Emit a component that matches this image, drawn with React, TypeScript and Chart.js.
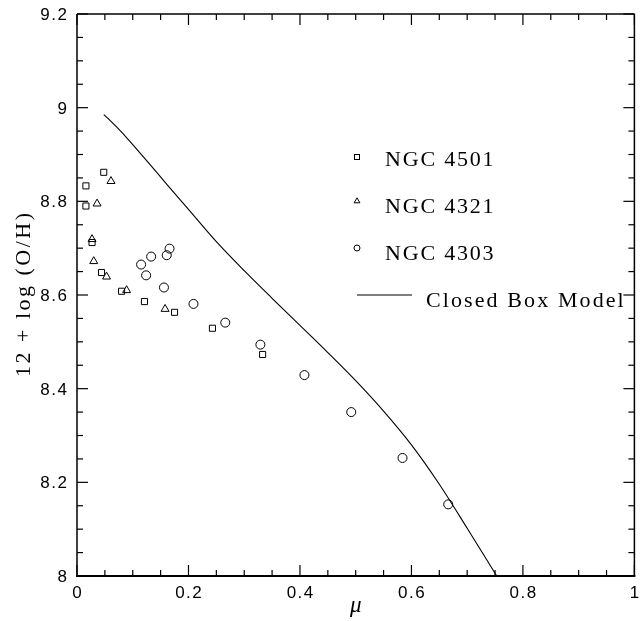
import { useEffect, useRef } from "react";
import { Chart, registerables } from "chart.js";

Chart.register(...registerables);

// ---- data ----
const ngc4501Mu = [0.016, 0.016, 0.048, 0.027, 0.044, 0.080, 0.121, 0.175, 0.243, 0.333];
const ngc4501OH = [8.833, 8.790, 8.862, 8.712, 8.648, 8.608, 8.586, 8.563, 8.529, 8.473];

const ngc4321Mu = [0.061, 0.036, 0.027, 0.030, 0.053, 0.089, 0.158];
const ngc4321OH = [8.843, 8.795, 8.719, 8.672, 8.639, 8.610, 8.570];

const ngc4303Mu = [0.115, 0.133, 0.161, 0.166, 0.124, 0.156, 0.209, 0.266, 0.329, 0.408, 0.492, 0.584, 0.666];
const ngc4303OH = [8.665, 8.682, 8.685, 8.699, 8.642, 8.616, 8.581, 8.541, 8.494, 8.429, 8.350, 8.252, 8.153];

const modelMu = [0.048, 0.06, 0.08, 0.10, 0.13, 0.16, 0.20, 0.25, 0.30, 0.35, 0.40, 0.45, 0.50, 0.55, 0.60, 0.65, 0.70, 0.753];
const modelOH = [8.985, 8.972, 8.948, 8.921, 8.880, 8.838, 8.783, 8.714, 8.652, 8.593, 8.535, 8.477, 8.417, 8.352, 8.280, 8.196, 8.102, 8.0];

const xTickValues = [0, 0.2, 0.4, 0.6, 0.8, 1];
const xTickLabels = ["0", "0.2", "0.4", "0.6", "0.8", "1"];
const yTickValues = [8, 8.2, 8.4, 8.6, 8.8, 9, 9.2];
const yTickLabels = ["8", "8.2", "8.4", "8.6", "8.8", "9", "9.2"];

const legendLabels = ["NGC 4501", "NGC 4321", "NGC 4303", "Closed Box Model"];
const xTitle = "\u03bc";
const yTitle = "12 + log (O/H)";

const pts = (xs: number[], ys: number[]) => xs.map((v, i) => ({ x: v, y: ys[i] }));

function spacedText(ctx: CanvasRenderingContext2D, text: string, x: number, y: number, align: string, ls: number) {
  (ctx as any).letterSpacing = ls + "px";
  ctx.textAlign = "left";
  const w = ctx.measureText(text).width - ls;
  let sx = x;
  if (align === "center") sx = x - w / 2;
  else if (align === "right") sx = x - w;
  ctx.fillText(text, sx, y);
  (ctx as any).letterSpacing = "0px";
}

const framePlugin = {
  id: "framePlugin",
  afterDraw(chart: any) {
    const { ctx, chartArea: a, scales } = chart;
    const xs = scales.x;
    const ys = scales.y;
    ctx.save();
    ctx.strokeStyle = "#000";
    ctx.fillStyle = "#000";
    const seg = (x1: number, y1: number, x2: number, y2: number) => {
      ctx.beginPath();
      ctx.moveTo(x1, y1);
      ctx.lineTo(x2, y2);
      ctx.stroke();
    };
    // ticks
    ctx.lineWidth = 1.2;
    for (let i = 0; i <= 20; i++) {
      const px = xs.getPixelForValue(i * 0.05);
      const len = i % 4 === 0 ? 11 : 6;
      seg(px, a.bottom, px, a.bottom - len);
      seg(px, a.top, px, a.top + len);
    }
    for (let i = 0; i <= 24; i++) {
      const py = ys.getPixelForValue(8 + i * 0.05);
      const len = i % 4 === 0 ? 11 : 6;
      seg(a.left, py, a.left + len, py);
      seg(a.right, py, a.right - len, py);
    }
    // frame
    ctx.lineWidth = 1.5;
    seg(a.left, a.top, a.right, a.top);
    seg(a.right, a.top, a.right, a.bottom);
    seg(a.left, a.top, a.left, a.bottom);
    ctx.lineWidth = 2.2;
    seg(a.left - 1, a.bottom, a.right + 1, a.bottom);

    // tick labels
    ctx.font = "17px 'Liberation Sans'";
    ctx.textBaseline = "alphabetic";
    xTickValues.forEach((v, i) => {
      spacedText(ctx, xTickLabels[i], xs.getPixelForValue(v), a.bottom + 22, "center", 1.5);
    });
    yTickValues.forEach((v, i) => {
      spacedText(ctx, yTickLabels[i], a.left - 10, ys.getPixelForValue(v) + 6, "right", 1.5);
    });

    // axis titles
    ctx.font = "italic 23px 'Liberation Serif'";
    spacedText(ctx, xTitle, (a.left + a.right) / 2, 612, "center", 0);
    ctx.save();
    ctx.translate(30, (a.top + a.bottom) / 2);
    ctx.rotate(-Math.PI / 2);
    ctx.font = "22px 'Liberation Serif'";
    spacedText(ctx, yTitle, 0, 0, "center", 2.5);
    ctx.restore();

    // legend
    const lx = 357;
    ctx.lineWidth = 1;
    ctx.strokeRect(lx - 2.5, 157 - 2.5, 5, 5);
    ctx.beginPath();
    ctx.moveTo(lx, 201 - 3.2);
    ctx.lineTo(lx + 2.9, 201 + 1.8);
    ctx.lineTo(lx - 2.9, 201 + 1.8);
    ctx.closePath();
    ctx.stroke();
    ctx.beginPath();
    ctx.arc(lx, 248, 3, 0, Math.PI * 2);
    ctx.stroke();
    ctx.lineWidth = 1.2;
    seg(lx, 295, 412, 295);

    ctx.font = "22px 'Liberation Serif'";
    spacedText(ctx, legendLabels[0], 385, 166, "left", 1.8);
    spacedText(ctx, legendLabels[1], 385, 213, "left", 1.8);
    spacedText(ctx, legendLabels[2], 385, 260, "left", 1.8);
    spacedText(ctx, legendLabels[3], 426, 307, "left", 2.1);
    ctx.restore();
  },
};

export default function App() {
  const ref = useRef<HTMLCanvasElement | null>(null);
  useEffect(() => {
    if (!ref.current) return;
    const chart = new Chart(ref.current, {
      type: "scatter",
      data: {
        datasets: [
          {
            label: "Closed Box Model",
            data: pts(modelMu, modelOH),
            showLine: true,
            borderColor: "#000",
            borderWidth: 1.1,
            pointRadius: 0,
            cubicInterpolationMode: "monotone",
          },
          {
            label: "NGC 4501",
            data: pts(ngc4501Mu, ngc4501OH),
            pointStyle: "rect",
            pointRadius: 4.3,
            borderColor: "#000",
            backgroundColor: "rgba(0,0,0,0)",
            pointBorderWidth: 1,
          },
          {
            label: "NGC 4321",
            data: pts(ngc4321Mu, ngc4321OH),
            pointStyle: "triangle",
            pointRadius: 4.6,
            borderColor: "#000",
            backgroundColor: "rgba(0,0,0,0)",
            pointBorderWidth: 1,
          },
          {
            label: "NGC 4303",
            data: pts(ngc4303Mu, ngc4303OH),
            pointStyle: "circle",
            pointRadius: 4.5,
            borderColor: "#000",
            backgroundColor: "rgba(0,0,0,0)",
            pointBorderWidth: 1,
          },
        ],
      } as any,
      options: {
        animation: false,
        responsive: false,
        devicePixelRatio: 1,
        layout: { padding: { left: 77, right: 3, top: 14, bottom: 45 } },
        plugins: { legend: { display: false }, tooltip: { enabled: false } },
        scales: {
          x: { type: "linear", min: 0, max: 1, display: false },
          y: { type: "linear", min: 8, max: 9.2, display: false },
        },
      } as any,
      plugins: [framePlugin],
    });
    return () => chart.destroy();
  }, []);
  return (
    <div style={{ position: "absolute", left: 0, top: 0, width: 640, height: 621, background: "#fff" }}>
      <canvas ref={ref} width={640} height={621} style={{ display: "block" }} />
    </div>
  );
}
